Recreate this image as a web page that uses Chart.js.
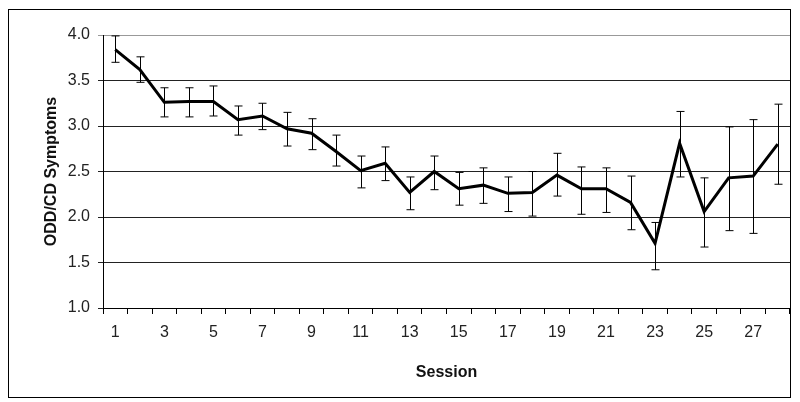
<!DOCTYPE html>
<html>
<head>
<meta charset="utf-8">
<script src="https://cdn.jsdelivr.net/npm/chart.js@4"></script>
<style>
  body { margin: 0; background: #fff; }
</style>
</head>
<body>
<canvas id="chart" width="800" height="402"></canvas>
<script>
let sessions = [];
for (let i = 1; i <= 28; i++) sessions.push(String(i));

// mean symptom score per session, with upper / lower error bar ends
let meanScores = [3.84, 3.62, 3.26, 3.27, 3.27, 3.07, 3.11, 2.97, 2.92, 2.72, 2.51, 2.59, 2.27, 2.50,
  2.31, 2.35, 2.26, 2.27, 2.46, 2.31, 2.31, 2.16, 1.71, 2.81, 2.06, 2.43, 2.45, 2.80];
let upperBars = [3.99, 3.76, 3.42, 3.42, 3.44, 3.22, 3.25, 3.15, 3.08, 2.90, 2.67, 2.77, 2.44, 2.67,
  2.49, 2.54, 2.44, 2.50, 2.70, 2.55, 2.54, 2.45, 1.94, 3.16, 2.43, 2.99, 3.07, 3.24];
let lowerBars = [3.70, 3.48, 3.10, 3.10, 3.11, 2.90, 2.96, 2.78, 2.74, 2.56, 2.32, 2.40, 2.08, 2.30,
  2.13, 2.15, 2.06, 2.01, 2.23, 2.03, 2.05, 1.86, 1.42, 2.44, 1.67, 1.85, 1.82, 2.36];

const fontFam = "'Liberation Sans', Arial, sans-serif";

// error bars drawn with the chart's own scales
const errorBars = {
  id: "errorBars",
  afterDatasetsDraw(chart) {
    const ctx = chart.ctx;
    const xs = chart.scales.x;
    const ys = chart.scales.y;
    ctx.save();
    ctx.strokeStyle = "#000";
    ctx.lineWidth = 1;
    for (let i = 0; i < meanScores.length; i++) {
      const x = Math.round(xs.getPixelForValue(i)) + 0.5;
      const top = ys.getPixelForValue(upperBars[i]);
      const bot = ys.getPixelForValue(lowerBars[i]);
      ctx.beginPath();
      ctx.moveTo(x, top);
      ctx.lineTo(x, bot);
      ctx.moveTo(x - 4, top);
      ctx.lineTo(x + 4, top);
      ctx.moveTo(x - 4, bot);
      ctx.lineTo(x + 4, bot);
      ctx.stroke();
    }
    ctx.restore();
  },
};

const outerBorder = {
  id: "outerBorder",
  afterDraw(chart) {
    const ctx = chart.ctx;
    ctx.save();
    ctx.strokeStyle = "#000";
    ctx.lineWidth = 1;
    ctx.strokeRect(8.5, 9.5, 782, 388);
    ctx.restore();
  },
};

new Chart(document.getElementById("chart").getContext("2d"), {
  type: "line",
  data: {
    labels: sessions,
    datasets: [
      {
        data: meanScores,
        borderColor: "#000",
        borderWidth: 3,
        pointRadius: 0,
        tension: 0,
      },
    ],
  },
  options: {
    responsive: false,
    animation: false,
    layout: { padding: { left: 0, right: 10, top: 35, bottom: 0 } },
    plugins: { legend: { display: false }, tooltip: { enabled: false } },
    scales: {
      x: {
        offset: true,
        afterFit: (s) => { s.height = 94; },
        grid: {
          offset: true,
          drawOnChartArea: false,
          color: "#000",
          tickLength: 6,
        },
        border: { color: "#000", width: 1 },
        ticks: {
          autoSkip: false,
          maxRotation: 0,
          padding: 9,
          color: "#222",
          font: { family: fontFam, size: 16 },
          callback: (v, i) => (i % 2 === 0 ? sessions[i] : ""),
        },
        title: {
          display: true,
          text: "Session",
          color: "#111",
          font: { family: fontFam, size: 16, weight: "bold" },
          padding: { top: 0, bottom: 20 },
        },
      },
      y: {
        min: 1,
        max: 4,
        afterFit: (s) => { s.width = 103; },
        grid: {
          color: (c) => (c.tick && c.tick.value === 4 ? "#999" : "#222"),
          tickLength: 5,
        },
        border: { color: "#000", width: 1 },
        ticks: {
          stepSize: 0.5,
          padding: 8,
          color: "#222",
          font: { family: fontFam, size: 16 },
          callback: (v) => v.toFixed(1),
        },
        title: {
          display: true,
          text: "ODD/CD Symptoms",
          color: "#111",
          font: { family: fontFam, size: 16, weight: "bold" },
          padding: { top: 42, bottom: 0 },
        },
      },
    },
  },
  plugins: [errorBars, outerBorder],
});
</script>
</body>
</html>
